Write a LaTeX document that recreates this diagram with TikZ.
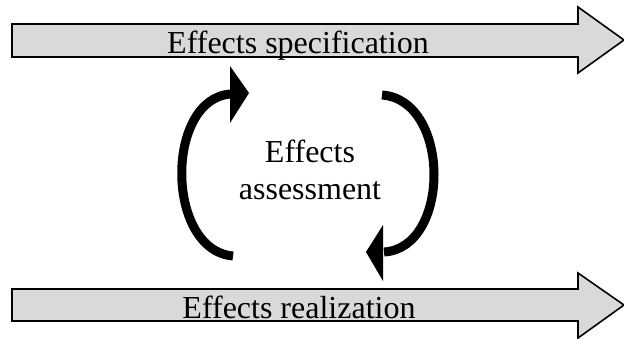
\documentclass[tikz,border=0pt]{standalone}
\usepackage{fontspec}
\setmainfont{Liberation Serif}
\begin{document}
\begin{tikzpicture}[x=1pt,y=-1pt,
  bararrow/.style={draw=black,line width=1.6pt,fill=black!15,line join=miter},
  bartext/.style={font=\fontsize{32}{36}\selectfont,inner sep=0pt,anchor=base},
  loop/.style={line width=9pt},
  loophead/.style={fill=black}]
\useasboundingbox (0,0) rectangle (624,338);
% top arrow
\draw[bararrow] (12,24) -- (578,24) -- (578,7) -- (624,40) -- (578,73) -- (578,57) -- (12,57) -- cycle;
\node[bartext] (spec) at (298,53) {Effects specification};
% bottom arrow
\draw[bararrow] (12,289) -- (578,289) -- (578,273) -- (624,305) -- (578,338) -- (578,321) -- (12,321) -- cycle;
\node[bartext] (real) at (299,318) {Effects realization};
% center text
\node[align=center,font=\fontsize{32}{37}\selectfont,inner sep=0pt] (assess) at (310,170) {Effects\\assessment};
% left loop arrow
\coordinate (l1) at (233,256);
\coordinate (l2) at (231,94);
\draw[loop] (l1) .. controls (165,250) and (165,98) .. (l2);
\fill[loophead] (230,66) -- (249,93) -- (230,123) -- cycle;
% right loop arrow
\coordinate (r1) at (382,95);
\coordinate (r2) at (384,252);
\draw[loop] (r1) .. controls (451,100) and (451,248) .. (r2);
\fill[loophead] (383,225) -- (366,252) -- (383,281) -- cycle;
\end{tikzpicture}
\end{document}
